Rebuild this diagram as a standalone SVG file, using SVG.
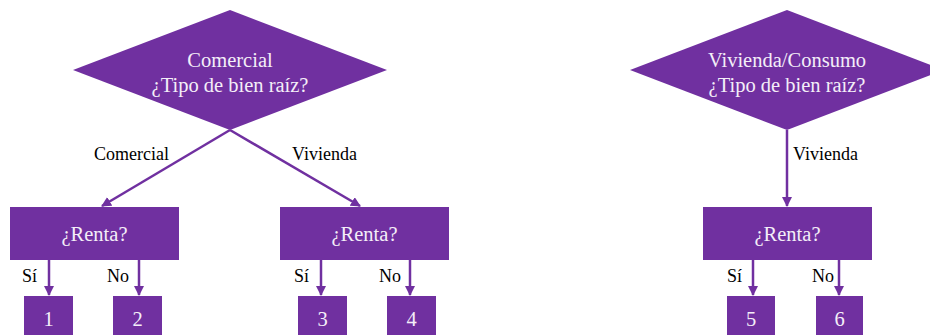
<svg xmlns="http://www.w3.org/2000/svg" width="930" height="335" viewBox="0 0 930 335">
<style>
.shape{fill:#7030A0;}
.in{font-family:'Liberation Serif','Times New Roman','DejaVu Serif',serif;font-size:20.5px;fill:#F4EEF8;text-anchor:middle;}
.lbl{font-family:'Liberation Serif','Times New Roman','DejaVu Serif',serif;font-size:18px;fill:#000;}
.edge{stroke:#7030A0;stroke-width:2.5;fill:none;marker-end:url(#ah);}
</style>
<defs>
<marker id="ah" viewBox="0 0 10 10" refX="9" refY="5" markerWidth="4" markerHeight="4" orient="auto" markerUnits="strokeWidth">
<path d="M0,0 L10,5 L0,10 z" fill="#7030A0"/>
</marker>
</defs>
<rect width="930" height="335" fill="#fff"/>
<g id="connectors">
<line class="edge" x1="230" y1="130" x2="102" y2="206"/>
<line class="edge" x1="230" y1="130" x2="360" y2="206"/>
<line class="edge" x1="787" y1="130" x2="787" y2="206"/>
<line class="edge" x1="49" y1="260" x2="49" y2="295"/>
<line class="edge" x1="139" y1="260" x2="139" y2="295"/>
<line class="edge" x1="321" y1="260" x2="321" y2="295"/>
<line class="edge" x1="410" y1="260" x2="410" y2="295"/>
<line class="edge" x1="753" y1="260" x2="753" y2="295"/>
<line class="edge" x1="839" y1="260" x2="839" y2="295"/>
<text class="lbl" x="94" y="160">Comercial</text>
<text class="lbl" x="292" y="160">Vivienda</text>
<text class="lbl" x="793" y="160">Vivienda</text>
<text class="lbl" x="22" y="282">Sí</text>
<text class="lbl" x="107" y="282">No</text>
<text class="lbl" x="294" y="282">Sí</text>
<text class="lbl" x="379" y="282">No</text>
<text class="lbl" x="727" y="282">Sí</text>
<text class="lbl" x="812" y="282">No</text>
</g>
<g id="d1">
<polygon class="shape" points="230,10 387,70 230,130 73,70"/>
<text class="in" x="230" y="67">Comercial</text>
<text class="in" x="230" y="92">¿Tipo de bien raíz?</text>
</g>
<g id="d2">
<polygon class="shape" points="787,10 944,70 787,130 630,70"/>
<text class="in" x="787" y="67">Vivienda/Consumo</text>
<text class="in" x="787" y="92">¿Tipo de bien raíz?</text>
</g>
<g id="r1">
<rect class="shape" x="10" y="207" width="169" height="53"/>
<text class="in" x="94.5" y="241">¿Renta?</text>
</g>
<g id="r2">
<rect class="shape" x="280" y="207" width="169" height="53"/>
<text class="in" x="364.5" y="241">¿Renta?</text>
</g>
<g id="r3">
<rect class="shape" x="703" y="207" width="169" height="53"/>
<text class="in" x="787.5" y="241">¿Renta?</text>
</g>
<g id="b1"><rect class="shape" x="24" y="296" width="49" height="45"/><text class="in" x="48.5" y="326">1</text></g>
<g id="b2"><rect class="shape" x="113" y="296" width="49" height="45"/><text class="in" x="137.5" y="326">2</text></g>
<g id="b3"><rect class="shape" x="298" y="296" width="49" height="45"/><text class="in" x="322.5" y="326">3</text></g>
<g id="b4"><rect class="shape" x="387" y="296" width="49" height="45"/><text class="in" x="411.5" y="326">4</text></g>
<g id="b5"><rect class="shape" x="727" y="296" width="48" height="45"/><text class="in" x="751" y="326">5</text></g>
<g id="b6"><rect class="shape" x="816" y="296" width="47" height="45"/><text class="in" x="839.5" y="326">6</text></g>
</svg>
